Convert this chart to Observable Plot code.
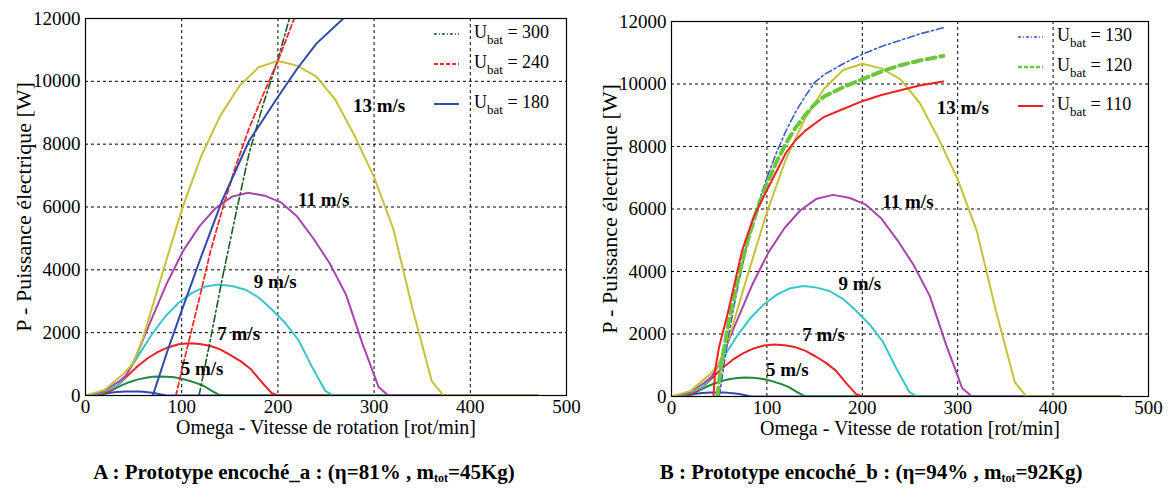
<!DOCTYPE html>
<html><head><meta charset="utf-8">
<script src="https://cdn.jsdelivr.net/npm/d3@7"></script>
<script src="https://cdn.jsdelivr.net/npm/@observablehq/plot@0.6"></script>
<style>
body{margin:0;background:#fff;}
#wrap{position:relative;width:1169px;height:493px;font-family:"Liberation Serif","Times New Roman",Times,"DejaVu Serif",serif;color:#000;overflow:hidden;}
.panel{position:absolute;top:0;}
.leg{position:absolute;font-size:18px;line-height:20px;white-space:nowrap;}
.leg sub{font-size:13px;vertical-align:-6px;line-height:0;}
.cap{position:absolute;top:460px;font-weight:bold;font-size:21px;white-space:nowrap;transform:translateX(-50%);}
.cap sub{font-size:12px;vertical-align:-3px;line-height:0;}
#wrap g[aria-label="x-axis label"] text{font-size:20px;}
#wrap g[aria-label="y-axis label"] text{font-size:22px;}
</style></head><body><div id="wrap"></div>
<script>
// ---- data: wind-speed power curves (omega in rot/min, P in W) ----
const omega3 = [0,4.6,9.2,11.5,13.8,18.5,23.1,27.7,32.3,36.9,41.5,46.2,50.8,55.4,60,64.6,69.2,73.8,78.5,83.1,85.9,470];
const power3 = [0,2,9,13,23,48,73,93,109,121,128,131,129,125,116,101,85,65,34,6,0,0];
const omega5 = [0,7.7,15.4,19.2,23.1,30.8,38.5,46.2,53.8,61.5,69.2,76.9,84.6,92.3,100,107.7,115.4,123.1,130.8,138.5,143.1,470];
const power5 = [0,10,40,60,105,222,336,432,506,560,595,606,597,578,535,469,395,302,156,26,0,0];
const omega7 = [0,10.8,21.5,26.9,32.3,43.1,53.8,64.6,75.4,86.2,96.9,107.7,118.5,129.2,140,150.8,161.5,172.3,183.1,193.8,200.3,470];
const power7 = [0,28,109,164,289,609,921,1186,1389,1538,1631,1662,1639,1584,1467,1288,1085,827,429,70,0,0];
const omega9 = [0,13.8,27.7,34.6,41.5,55.4,69.2,83.1,96.9,110.8,124.6,138.5,152.3,166.2,180,193.8,207.7,221.5,235.4,249.2,257.5,470];
const power9 = [0,60,232,348,614,1294,1958,2522,2953,3268,3467,3534,3484,3368,3119,2737,2306,1759,912,149,0,0];
const omega11 = [0,16.9,33.8,42.3,50.8,67.7,84.6,101.5,118.5,135.4,152.3,169.2,186.2,203.1,220,236.9,253.8,270.8,287.7,304.6,314.8,470];
const power11 = [0,109,424,636,1121,2363,3574,4604,5392,5967,6331,6452,6361,6149,5695,4998,4210,3211,1666,273,0,0];
const omega13 = [0,20,40,50,60,80,100,120,140,160,180,200,220,240,260,280,300,320,340,360,372,470];
const power13 = [0,180,700,1050,1850,3900,5900,7600,8900,9850,10450,10650,10500,10150,9400,8250,6950,5300,2750,450,0,0];

// ---- battery-voltage curves, panel A ----
const omegaU300 = [118,130,142,155,170,185,200,212];
const powerU300 = [0,1800,3700,5600,7700,9300,10700,12000];
const omegaU240 = [94,100,110,120,130,142,155,170,185,200,217];
const powerU240 = [0,800,2050,3300,4600,5900,7200,8500,9600,10650,12000];
const omegaU180 = [70,85,100,120,142,170,200,220,240,268];
const powerU180 = [0,1400,2700,4400,6200,8100,9500,10400,11200,12000];

// ---- battery-voltage curves, panel B ----
const omegaU130 = [50,54,60,70,80,90,100,110,120,130,140,150,160,180,200,220,240,260,285];
const powerU130 = [0,800,2000,3600,5000,6100,7000,7800,8500,9100,9600,10050,10300,10650,10950,11200,11400,11600,11800];
const omegaU120 = [48,52,60,70,80,90,100,110,120,130,140,150,160,180,200,220,240,260,285];
const powerU120 = [0,1000,2400,3800,5000,6000,6800,7500,8100,8600,9000,9350,9600,9900,10150,10400,10600,10750,10900];
const omegaU110 = [44,46,50,58,66,74,86,100,110,120,130,140,160,180,200,220,240,260,285];
const powerU110 = [0,900,1600,2540,3600,4670,5740,6600,7200,7800,8200,8500,8950,9200,9450,9650,9800,9950,10080];

// ---- labels / ticks ----
const xTicks = [0,100,200,300,400,500];
const yTicks = [0,2000,4000,6000,8000,10000,12000];
const xGrid = [100,200,300,400];
const yGrid = [2000,4000,6000,8000,10000];
const speedLabels = ["5 m/s","7 m/s","9 m/s","11 m/s","13 m/s"];
const speedLabelOmega = [99,137,175,221,278];
const speedLabelPower = [860,1975,3600,6240,9230];
const xLabel = "Omega - Vitesse de rotation [rot/min]";
const yLabel = "P - Puissance électrique [W]";

const FONT = "'Liberation Serif','Times New Roman',Times,'DejaVu Serif',serif";

const speedCurves = [
  {o: omega3, p: power3, c: "#3346b0"},
  {o: omega5, p: power5, c: "#1f8a3a"},
  {o: omega7, p: power7, c: "#ec2224"},
  {o: omega9, p: power9, c: "#38c6c8"},
  {o: omega11, p: power11, c: "#a845ac"},
  {o: omega13, p: power13, c: "#c6c238"}
];

function panel(cfg) {
  const marks = [
    Plot.gridX(xGrid, {stroke: "#000", strokeOpacity: 1, strokeDasharray: "3,3", strokeWidth: 1}),
    Plot.gridY(yGrid, {stroke: "#000", strokeOpacity: 1, strokeDasharray: "3,3", strokeWidth: 1}),
    ...speedCurves.map(s => Plot.line(s.o, {x: s.o, y: s.p, stroke: s.c, strokeWidth: 2, clip: true})),
    ...cfg.ubat.map(u => Plot.line(u.o, {x: u.o, y: u.p, stroke: u.c, strokeWidth: u.w, strokeDasharray: u.dash, clip: true})),
    Plot.text(speedLabels, {x: speedLabelOmega, y: speedLabelPower, text: d => d, textAnchor: "start", fontSize: 19, fontWeight: "bold", fill: "#000"}),
    Plot.frame({stroke: "#000", strokeWidth: 1.2}),
    Plot.axisX({ticks: xTicks, tickSize: 0, tickPadding: 4, tickFormat: d => String(d), label: xLabel, labelAnchor: "center", labelOffset: 38, labelArrow: "none", fontSize: 19}),
    Plot.axisY({ticks: yTicks, tickSize: 0, tickPadding: 5, tickFormat: d => String(d), label: yLabel, labelAnchor: "center", labelOffset: 70, labelArrow: "none", fontSize: 19})
  ];
  return Plot.plot({
    width: cfg.width, height: 445,
    marginLeft: cfg.ml, marginRight: cfg.mr, marginTop: cfg.mt, marginBottom: 445 - cfg.bottom,
    x: {domain: [0, 500]},
    y: {domain: [0, 12000]},
    style: {fontFamily: FONT, fontSize: "19px", color: "#000", background: "transparent", overflow: "visible"},
    marks
  });
}

const wrap = document.getElementById("wrap");

const ubatA = [
  {o: omegaU300, p: powerU300, c: "#1d5a22", w: 1.6, dash: "7,3,2,3", name: "300"},
  {o: omegaU240, p: powerU240, c: "#ee2a2a", w: 1.8, dash: "5,3", name: "240"},
  {o: omegaU180, p: powerU180, c: "#2f4aa8", w: 2, dash: null, name: "180"}
];
const ubatB = [
  {o: omegaU130, p: powerU130, c: "#3a5cc4", w: 1.6, dash: "7,3,2,3", name: "130"},
  {o: omegaU120, p: powerU120, c: "#6cc640", w: 4, dash: "9,5", name: "120"},
  {o: omegaU110, p: powerU110, c: "#ec2224", w: 2, dash: null, name: "110"}
];

function place(el, left) {
  const d = document.createElement("div");
  d.className = "panel"; d.style.left = left + "px";
  d.appendChild(el); wrap.appendChild(d);
}
place(panel({width: 580, ml: 85, mr: 14, mt: 18, bottom: 395, ubat: ubatA}), 0);
place(panel({width: 584, ml: 86, mr: 21, mt: 21, bottom: 396, ubat: ubatB}), 585);

function legend(items, lineX, textX, ys) {
  items.forEach((u, i) => {
    const s = document.createElementNS("http://www.w3.org/2000/svg", "svg");
    s.setAttribute("width", 26); s.setAttribute("height", 8);
    s.style.position = "absolute";
    s.style.left = lineX + "px"; s.style.top = (ys[i] - 4) + "px";
    const l = document.createElementNS("http://www.w3.org/2000/svg", "line");
    l.setAttribute("x1", 0); l.setAttribute("x2", 25); l.setAttribute("y1", 4); l.setAttribute("y2", 4);
    l.setAttribute("stroke", u.c); l.setAttribute("stroke-width", Math.min(u.w, 2.5));
    if (u.dash) l.setAttribute("stroke-dasharray", (u.dash === "9,5" || u.dash === "5,3") ? "4,2" : "3,2,1,2");
    s.appendChild(l); wrap.appendChild(s);
    const t = document.createElement("div");
    t.className = "leg"; t.style.left = textX + "px"; t.style.top = (ys[i] - 12) + "px";
    t.innerHTML = "U<sub>bat</sub> = " + u.name;
    wrap.appendChild(t);
  });
}
legend(ubatA, 434, 474, [34, 64, 104]);
legend(ubatB, 1018, 1057, [37, 67, 106]);

const capA = document.createElement("div");
capA.className = "cap"; capA.style.left = "304px";
capA.innerHTML = "A : Prototype encoché_a : (η=81% , m<sub>tot</sub>=45Kg)";
wrap.appendChild(capA);
const capB = document.createElement("div");
capB.className = "cap"; capB.style.left = "871px";
capB.innerHTML = "B : Prototype encoché_b : (η=94% , m<sub>tot</sub>=92Kg)";
wrap.appendChild(capB);
</script></body></html>
